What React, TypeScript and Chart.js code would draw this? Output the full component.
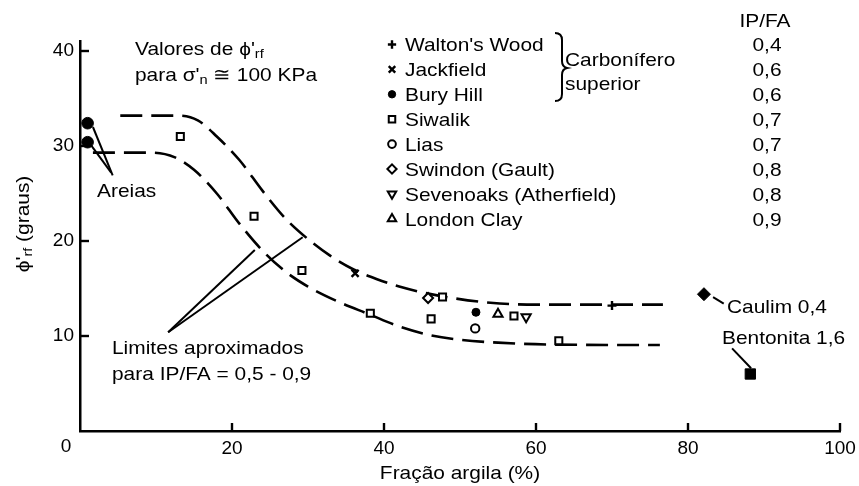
import { useEffect, useRef } from 'react';
import { Chart, registerables } from 'chart.js';
import { drawPoint } from 'chart.js/helpers';

Chart.register(...registerables);

const FONT = '"Liberation Sans", Arial, Helvetica, sans-serif';
const INK = '#000';

// Clay fraction (%) and residual friction angle phi'rf (degrees) of each soil
const waltonsWoodX = [70.0];
const waltonsWoodY = [13.2];
const jackfieldX = [36.2];
const jackfieldY = [16.6];
const buryHillX = [52.1];
const buryHillY = [12.5];
const siwalikX = [13.2, 22.9, 29.2, 38.2, 46.2, 47.7, 57.1, 63.0];
const siwalikY = [31.0, 22.6, 16.9, 12.4, 11.8, 14.1, 12.1, 9.5];
const liasX = [52.0];
const liasY = [10.8];
const swindonX = [45.8];
const swindonY = [14.0];
const sevenoaksX = [58.7];
const sevenoaksY = [12.0];
const londonClayX = [55.0];
const londonClayY = [12.3];

// Sands, kaolin and bentonite
const areiasX = [1.0, 1.0];
const areiasY = [32.4, 30.4];
const caulimX = [82.1];
const caulimY = [14.4];
const bentonitaX = [88.2];
const bentonitaY = [6.0];

// Approximate bounds of the band for IP/FA = 0,5 - 0,9
const upperLimitX = [5.3, 13, 15.5, 18, 21, 24, 27, 30, 33, 36, 39, 42, 45, 49, 54, 60, 76.7];
const upperLimitY = [33.2, 33.2, 32.7, 31.0, 28.5, 25.3, 22.4, 20.2, 18.4, 17.0, 16.0, 15.2, 14.6, 14.0, 13.5, 13.3, 13.3];
const lowerLimitX = [1.7, 9.6, 12.5, 15, 18, 21, 24, 27, 30, 34, 38, 42, 46, 50, 55, 62, 76.3];
const lowerLimitY = [29.3, 29.3, 28.8, 27.5, 25.0, 21.8, 19.0, 16.8, 15.2, 13.6, 12.3, 11.0, 10.1, 9.6, 9.3, 9.1, 9.05];

// Axis ticks
const xTickValues = [0, 20, 40, 60, 80, 100];
const yTickValues = [0, 10, 20, 30, 40];

// Legend entries and their IP/FA ratios
const soilNames = ["Walton's Wood", 'Jackfield', 'Bury Hill', 'Siwalik', 'Lias', 'Swindon (Gault)', 'Sevenoaks (Atherfield)', 'London Clay'];
const soilIpFa = ['0,4', '0,6', '0,6', '0,7', '0,7', '0,8', '0,8', '0,9'];
const soilX = [waltonsWoodX, jackfieldX, buryHillX, siwalikX, liasX, swindonX, sevenoaksX, londonClayX];
const soilY = [waltonsWoodY, jackfieldY, buryHillY, siwalikY, liasY, swindonY, sevenoaksY, londonClayY];

type Marker = { pointStyle: string; radius: number; rotation?: number; filled: boolean; lineWidth: number };

const soilMarkers: Marker[] = [
  { pointStyle: 'cross', radius: 4.5, filled: false, lineWidth: 2.4 },
  { pointStyle: 'crossRot', radius: 5, filled: false, lineWidth: 2.4 },
  { pointStyle: 'circle', radius: 4, filled: true, lineWidth: 1 },
  { pointStyle: 'rect', radius: 5, filled: false, lineWidth: 2 },
  { pointStyle: 'circle', radius: 4.2, filled: false, lineWidth: 2 },
  { pointStyle: 'rectRot', radius: 5, filled: false, lineWidth: 2 },
  { pointStyle: 'triangle', radius: 5.3, rotation: 180, filled: false, lineWidth: 2 },
  { pointStyle: 'triangle', radius: 5.3, filled: false, lineWidth: 2 },
];

const toPoints = (xs: number[], ys: number[]) => xs.map((x, i) => ({ x, y: ys[i] }));

const markerDataset = (label: string, xs: number[], ys: number[], m: Marker) => ({
  label,
  data: toPoints(xs, ys),
  showLine: false,
  pointStyle: m.pointStyle,
  pointRadius: m.radius,
  pointRotation: m.rotation || 0,
  pointBorderWidth: m.lineWidth,
  pointBorderColor: INK,
  pointBackgroundColor: m.filled ? INK : '#fff',
  clip: false,
  order: 0,
});

const limitDataset = (label: string, xs: number[], ys: number[]) => ({
  label,
  data: toPoints(xs, ys),
  showLine: true,
  borderColor: INK,
  borderWidth: 2.6,
  borderDash: [22, 9],
  borderCapStyle: 'butt',
  cubicInterpolationMode: 'monotone',
  pointRadius: 0,
  fill: false,
  clip: false,
  order: 1,
});

type Seg = { t: string; sub?: boolean };
const STRETCH = 1.1;
const TEXT_SIZE = 19;

// Draws one line of text, vertically centred on the cap height, with optional subscripts
function drawText(ctx: CanvasRenderingContext2D, segs: Seg[] | string, x: number, yMid: number, align: 'left' | 'center' | 'right' = 'left', size = TEXT_SIZE) {
  const parts: Seg[] = typeof segs === 'string' ? [{ t: segs }] : segs;
  const subSize = size * 0.7;
  let w = 0;
  for (const s of parts) {
    ctx.font = `${s.sub ? subSize : size}px ${FONT}`;
    w += ctx.measureText(s.t).width;
  }
  const start = align === 'left' ? x : align === 'center' ? x - (w * STRETCH) / 2 : x - w * STRETCH;
  ctx.save();
  ctx.translate(start, yMid + size * 0.36);
  ctx.scale(STRETCH, 1);
  ctx.textAlign = 'left';
  ctx.textBaseline = 'alphabetic';
  let ox = 0;
  for (const s of parts) {
    ctx.font = `${s.sub ? subSize : size}px ${FONT}`;
    ctx.fillText(s.t, ox, s.sub ? 3 : 0);
    ox += ctx.measureText(s.t).width;
  }
  ctx.restore();
}

function setMarkerPaint(ctx: CanvasRenderingContext2D, m: Marker) {
  ctx.lineWidth = m.lineWidth;
  ctx.strokeStyle = INK;
  ctx.fillStyle = m.filled ? INK : '#fff';
}

const decorations = {
  id: 'decorations',
  afterDraw(chart: any) {
    const { ctx, chartArea: a } = chart;
    const sx = chart.scales.x;
    const sy = chart.scales.y;
    const X = (v: number) => sx.getPixelForValue(v);
    const Y = (v: number) => sy.getPixelForValue(v);

    ctx.save();
    ctx.strokeStyle = INK;
    ctx.fillStyle = INK;

    // inward tick marks
    ctx.lineWidth = 2.4;
    ctx.lineCap = 'butt';
    for (const v of yTickValues) {
      if (v === 0) continue;
      ctx.beginPath();
      ctx.moveTo(a.left, Y(v));
      ctx.lineTo(a.left + 9, Y(v));
      ctx.stroke();
    }
    for (const v of xTickValues) {
      if (v === 0) continue;
      ctx.beginPath();
      ctx.moveTo(X(v), a.bottom);
      ctx.lineTo(X(v), a.bottom - 8);
      ctx.stroke();
    }

    // shared origin label
    ctx.font = `19px ${FONT}`;
    ctx.textAlign = 'center';
    ctx.textBaseline = 'middle';
    ctx.fillText('0', a.left - 14, a.bottom + 16);

    // leader lines (data coordinates)
    const leaders: number[][][] = [
      [[1.7, 32.0], [4.3, 26.9]],
      [[1.45, 30.1], [4.1, 27.2]],
      [[11.6, 10.4], [23.0, 19.05]],
      [[11.6, 10.4], [29.3, 20.4]],
      [[83.3, 14.1], [84.7, 13.4]],
      [[85.8, 8.7], [88.3, 6.6]],
    ];
    ctx.lineWidth = 2;
    for (const [p, q] of leaders) {
      ctx.beginPath();
      ctx.moveTo(X(p[0]), Y(p[1]));
      ctx.lineTo(X(q[0]), Y(q[1]));
      ctx.stroke();
    }

    // brace grouping the Upper Carboniferous soils
    ctx.lineWidth = 2;
    ctx.beginPath();
    ctx.moveTo(555, 33);
    ctx.quadraticCurveTo(562, 33, 562, 40);
    ctx.lineTo(562, 61);
    ctx.quadraticCurveTo(562, 67, 567, 68);
    ctx.quadraticCurveTo(562, 69, 562, 75);
    ctx.lineTo(562, 94);
    ctx.quadraticCurveTo(562, 101, 555, 101);
    ctx.stroke();

    // text annotations
    ctx.fillStyle = INK;
    drawText(ctx, [{ t: 'Valores de \u03d5\'' }, { t: 'rf', sub: true }], 135, 48);
    drawText(ctx, [{ t: 'para \u03c3\'' }, { t: 'n', sub: true }, { t: ' \u2245 100 KPa' }], 135, 74);
    drawText(ctx, 'Areias', 97, 190);
    drawText(ctx, 'Limites aproximados', 112, 347);
    drawText(ctx, 'para IP/FA = 0,5 - 0,9', 112, 373);
    drawText(ctx, 'Carbonífero', 565, 59);
    drawText(ctx, 'superior', 565, 83);
    drawText(ctx, 'Caulim 0,4', 727, 306);
    drawText(ctx, 'Bentonita 1,6', 722, 337);

    // legend with IP/FA column
    drawText(ctx, 'IP/FA', 765, 20, 'center');
    soilNames.forEach((name, i) => {
      const y = 44.5 + i * 24.9;
      const m = soilMarkers[i];
      setMarkerPaint(ctx, m);
      drawPoint(ctx, { pointStyle: m.pointStyle, rotation: m.rotation || 0, radius: m.radius * 0.92, borderWidth: m.lineWidth }, 392, y);
      ctx.fillStyle = INK;
      drawText(ctx, name, 405, y);
      drawText(ctx, soilIpFa[i], 767, y, 'center');
    });

    // axis titles
    drawText(ctx, 'Fração argila (%)', (a.left + a.right) / 2, 472, 'center');
    ctx.save();
    ctx.translate(22, 224);
    ctx.rotate(-Math.PI / 2);
    drawText(ctx, [{ t: '\u03d5\'' }, { t: 'rf', sub: true }, { t: ' (graus)' }], 0, 0, 'center');
    ctx.restore();

    ctx.restore();
  },
};

export default function App() {
  const canvasRef = useRef<HTMLCanvasElement>(null);

  useEffect(() => {
    const canvas = canvasRef.current;
    if (!canvas) return;

    const datasets: any[] = soilNames.map((name, i) => markerDataset(name, soilX[i], soilY[i], soilMarkers[i]));
    datasets.push(markerDataset('Areias', areiasX, areiasY, { pointStyle: 'circle', radius: 5.8, filled: true, lineWidth: 1 }));
    datasets.push(markerDataset('Caulim', caulimX, caulimY, { pointStyle: 'rectRot', radius: 6.5, filled: true, lineWidth: 1 }));
    datasets.push(markerDataset('Bentonita', bentonitaX, bentonitaY, { pointStyle: 'rect', radius: 7.3, filled: true, lineWidth: 1 }));
    datasets.push(limitDataset('Limite superior', upperLimitX, upperLimitY));
    datasets.push(limitDataset('Limite inferior', lowerLimitX, lowerLimitY));

    const tickFont = { family: FONT, size: 19 };

    const chart = new Chart(canvas, {
      type: 'scatter',
      data: { datasets },
      options: {
        responsive: false,
        animation: false,
        devicePixelRatio: 1,
        events: [],
        layout: { padding: { left: 0, top: 41.5, right: 19, bottom: 0 } },
        plugins: {
          legend: { display: false },
          tooltip: { enabled: false },
        },
        scales: {
          x: {
            type: 'linear',
            min: 0,
            max: 100,
            grid: { display: false },
            border: { display: true, color: INK, width: 2.5 },
            ticks: {
              stepSize: 20,
              autoSkip: false,
              maxRotation: 0,
              color: INK,
              font: tickFont,
              padding: -1.5,
              callback: (v: any) => (xTickValues.includes(v) && v !== 0 ? String(v) : ''),
            },
            afterFit: (scale: any) => {
              scale.height = 55;
            },
          },
          y: {
            type: 'linear',
            min: 0,
            max: 41,
            grid: { display: false },
            border: { display: true, color: INK, width: 2.5 },
            ticks: {
              stepSize: 10,
              includeBounds: false,
              autoSkip: false,
              color: INK,
              font: tickFont,
              padding: -2,
              callback: (v: any) => (yTickValues.includes(v) && v !== 0 ? String(v) : ''),
            },
            afterFit: (scale: any) => {
              scale.width = 80;
            },
          },
        },
      },
      plugins: [decorations],
    } as any);

    return () => chart.destroy();
  }, []);

  return (
    <div style={{ position: 'absolute', left: 0, top: 0, width: 859, height: 486, background: '#fff' }}>
      <canvas ref={canvasRef} width={859} height={486} style={{ display: 'block', width: 859, height: 486 }} />
    </div>
  );
}
